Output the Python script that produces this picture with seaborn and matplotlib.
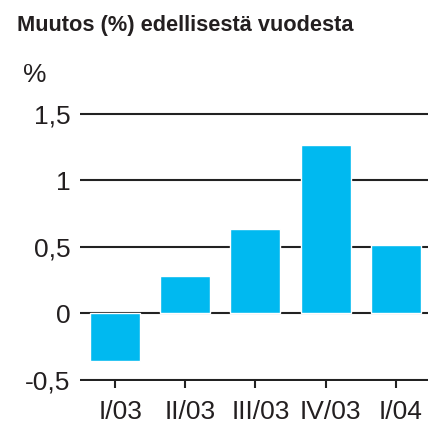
import matplotlib
matplotlib.use("Agg")
import matplotlib.pyplot as plt
import matplotlib.transforms as mtransforms
import seaborn as sns
import pandas as pd
from matplotlib.ticker import FuncFormatter

# Data
quarters = ["I/03", "II/03", "III/03", "IV/03", "I/04"]
change_pct = [-0.36, 0.28, 0.63, 1.26, 0.51]
y_ticks = [-0.5, 0, 0.5, 1, 1.5]

title_text = "Muutos (%) edellisestä vuodesta"
unit_text = "%"

bar_color = "#00b9f0"
text_color = "#231f20"

sns.set_style("white")
plt.rcParams["font.family"] = ["Liberation Sans", "DejaVu Sans"]

df = pd.DataFrame({"quarter": quarters, "change": change_pct})

fig = plt.figure(figsize=(4.28, 4.23), dpi=100)
ax = fig.add_axes([80 / 428, 0.0986, 1 - 80 / 428, 0.7348 - 0.0986])

sns.barplot(data=df, x="quarter", y="change", color=bar_color,
            saturation=1, width=0.714, ax=ax, zorder=3)

ax.set_xlim(-0.5, 4.46)
ax.set_ylim(-0.51, 1.51)
ax.set_yticks(y_ticks)
ax.yaxis.set_major_formatter(FuncFormatter(lambda v, p: f"{v:g}".replace(".", ",")))

ax.set_axisbelow(True)
ax.yaxis.grid(True, color="#222222", linewidth=1.5)
ax.xaxis.grid(False)
for s in ax.spines.values():
    s.set_visible(False)

ax.tick_params(axis="y", length=0, pad=7, labelsize=19, labelcolor=text_color)
ax.tick_params(axis="x", bottom=True, direction="out", length=5, width=1.5,
               color="#222222", pad=8.5, labelsize=19, labelcolor=text_color)
ax.xaxis.set_ticks_position("bottom")

# quarter labels sit a little right of their tick marks in the original
shift = mtransforms.ScaledTranslation(0.05, 0, fig.dpi_scale_trans)
for lbl in ax.get_xticklabels():
    lbl.set_transform(lbl.get_transform() + shift)

ax.set_xlabel("")
ax.set_ylabel("")

fig.text(17 / 428, 1 - 31 / 423, title_text, fontsize=15.7, fontweight="bold",
         color=text_color, va="baseline")
fig.text(23 / 428, 1 - 82 / 423, unit_text, fontsize=19, color=text_color,
         va="baseline")

fig.savefig("out.png", dpi=100)
